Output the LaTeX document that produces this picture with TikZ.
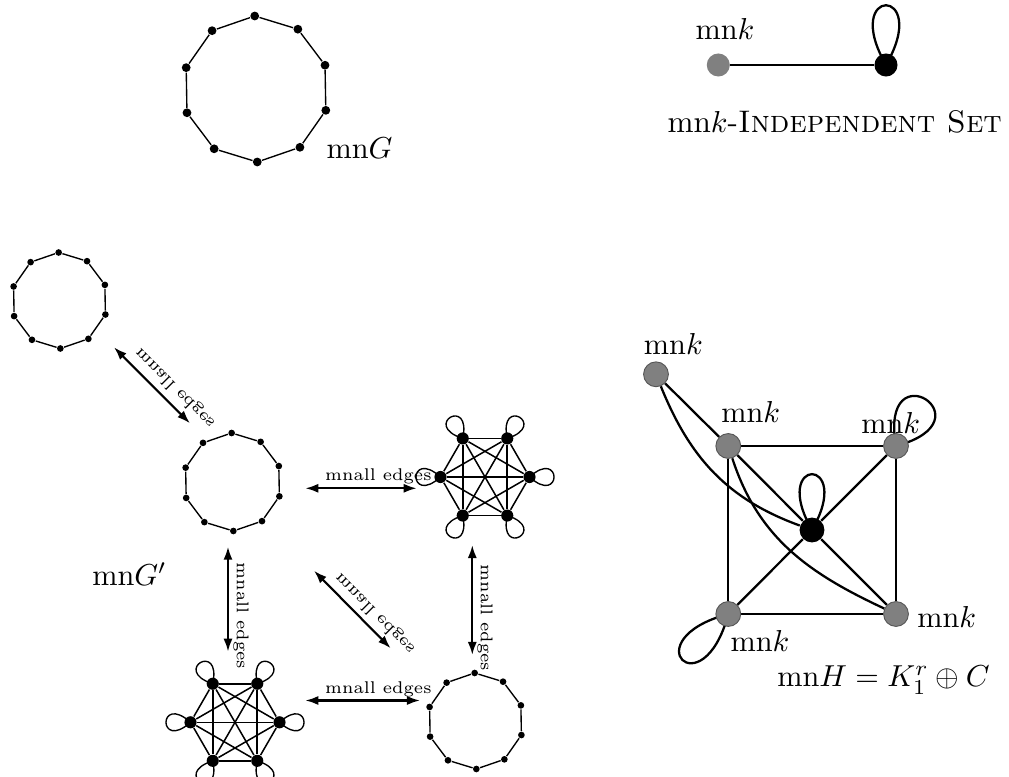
\documentclass[tikz,border=0pt]{standalone}
\usepackage{fontspec}
\usepackage{graphicx}
\usetikzlibrary{arrows.meta}
\pgfdeclarelayer{bg}
\pgfsetlayers{bg,main}
\definecolor{ngray}{RGB}{128,128,128}
\definecolor{nborder}{RGB}{85,85,85}
\newcommand{\mirtext}[1]{\scalebox{1}[-1]{#1}}
\tikzset{
  dotA/.style={circle,fill=black,inner sep=0pt,minimum size=2.9pt},
  dotB/.style={circle,fill=black,inner sep=0pt,minimum size=2.2pt},
  cdot/.style={circle,fill=black,inner sep=0pt,minimum size=4pt},
  thinedge/.style={line width=0.45pt},
  cedge/.style={line width=0.5pt},
  hedge/.style={line width=0.75pt},
  gnode/.style={circle,fill=ngray,draw=nborder,line width=0.3pt,inner sep=0pt,minimum size=8.2pt},
  bnode/.style={circle,fill=black,inner sep=0pt,minimum size=8.2pt},
  lgnode/.style={circle,fill=ngray,inner sep=0pt,minimum size=7.6pt},
  lbnode/.style={circle,fill=black,inner sep=0pt,minimum size=7.6pt},
  biarrow/.style={{Latex[length=4.3pt,width=3pt]}-{Latex[length=4.3pt,width=3pt]},line width=0.7pt},
  smalllab/.style={inner sep=0.5pt,font=\fontsize{5.6}{6.5}\selectfont},
  lab/.style={inner sep=0pt}
}
\newcommand{\drawdecagon}[5]{%
  \foreach \i in {0,...,9}{\node[#5] (#1\i) at ([shift={(#2,#3)}]91-36*\i:#4) {};}
  \begin{pgfonlayer}{bg}
  \foreach \i [evaluate=\i as \j using {int(mod(\i+1,10))}] in {0,...,9}{\draw[thinedge] (#1\i) -- (#1\j);}
  \end{pgfonlayer}}
\newcommand{\drawclique}[3]{%
  \foreach \i in {0,...,5}{\node[cdot] (#1\i) at ([shift={(#2,#3)}]60*\i:44.5) {};}
  \begin{pgfonlayer}{bg}
  \foreach \i in {0,...,4}{\foreach \j in {\i,...,5}{\ifnum\i<\j \draw[cedge] (#1\i) -- (#1\j);\fi}}
  \foreach \i in {0,...,5}{\draw[thinedge] (#1\i.center) .. controls +(60*\i+42:44) and +(60*\i-42:44) .. (#1\i.center);}
  \end{pgfonlayer}}
\begin{document}
\begin{tikzpicture}[x=0.33pt,y=0.33pt]
\path[use as bounding box] (0,0) rectangle (1009,-777);

% top cycle G
\drawdecagon{g}{256}{-89}{73}{dotA}
\node[lab,anchor=base west] (labG) at (326,-159) {mn$G$};

% legend
\node[lgnode] (lg) at (718.3,-65) {};
\node[lbnode] (lb) at (886,-65) {};
\begin{pgfonlayer}{bg}
\draw[hedge] (lg) -- (lb);
\draw[hedge] (lb.center) .. controls +(120:92) and +(60:92) .. (lb.center);
\end{pgfonlayer}
\node[lab,anchor=base west] (labk0) at (695,-40) {mn$k$};
\node[lab,anchor=base west,font=\fontsize{10.3}{12}\selectfont] (labIS) at (667,-133) {mn$k$-\textsc{Independent Set}};

% left small cycle
\drawdecagon{s}{59.5}{-300.5}{48}{dotB}
% G' cycle
\drawdecagon{p}{232.5}{-482}{49}{dotB}
% bottom right cycle
\drawdecagon{q}{475.5}{-721}{48}{dotB}
% cliques
\drawclique{c}{485}{-477}
\drawclique{d}{235}{-722.3}

\node[lab,anchor=base west] (labGp) at (91.7,-585.7) {mn$G'$};

% arrows
\coordinate (a1s) at (114,-347.3); \coordinate (a1e) at (190,-423.3);
\coordinate (a2s) at (305.3,-488.3); \coordinate (a2e) at (416.7,-488.3);
\coordinate (a3s) at (228,-546.7); \coordinate (a3e) at (228,-651.7);
\coordinate (a4s) at (472.3,-545); \coordinate (a4e) at (472.3,-655);
\coordinate (a5s) at (314,-570.7); \coordinate (a5e) at (390.7,-648.3);
\coordinate (a6s) at (305.3,-700.5); \coordinate (a6e) at (420,-700.5);
\draw[biarrow] (a1s) -- (a1e);
\draw[biarrow] (a2s) -- (a2e);
\draw[biarrow] (a3s) -- (a3e);
\draw[biarrow] (a4s) -- (a4e);
\draw[biarrow] (a5s) -- (a5e);
\draw[biarrow] (a6s) -- (a6e);
\node[smalllab,rotate=-45] (l1) at (175,-388) {\mirtext{mnall edges}};
\node[smalllab] (l2) at (378.3,-476) {mnall edges};
\node[smalllab,rotate=-90] (l3) at (241,-616) {mnall edges};
\node[smalllab,rotate=-90] (l4) at (485,-618) {mnall edges};
\node[smalllab,rotate=-45] (l5) at (375,-613.3) {\mirtext{mnall edges}};
\node[smalllab] (l6) at (378.3,-689) {mnall edges};

% graph H
\node[gnode] (o) at (656,-374.3) {};
\node[gnode] (A) at (728.3,-446) {};
\node[gnode] (B) at (896,-446) {};
\node[bnode] (Z) at (812,-530) {};
\node[gnode] (C) at (728.3,-614) {};
\node[gnode] (D) at (896,-614) {};
\begin{pgfonlayer}{bg}
\draw[hedge] (o) -- (A);
\draw[hedge] (o) to[out=-68,in=160] (Z);
\draw[hedge] (A) -- (B);
\draw[hedge] (A) -- (C);
\draw[hedge] (B) -- (D);
\draw[hedge] (C) -- (D);
\draw[hedge] (A) -- (Z);
\draw[hedge] (B) -- (Z);
\draw[hedge] (C) -- (Z);
\draw[hedge] (D) -- (Z);
\draw[hedge] (A) to[out=-72,in=155] (D);
\draw[hedge] (Z.center) .. controls +(120:86) and +(60:86) .. (Z.center);
\draw[hedge] (B.center) .. controls +(100:100) and +(15:100) .. (B.center);
\draw[hedge] (C.center) .. controls +(195:100) and +(255:100) .. (C.center);
\end{pgfonlayer}
\node[lab,anchor=base west] (lo) at (643.3,-355) {mn$k$};
\node[lab,anchor=base west] (lA) at (720.7,-422.7) {mn$k$};
\node[lab,anchor=base west] (lB) at (860.7,-434) {mn$k$};
\node[lab,anchor=base west] (lD) at (916.7,-627.3) {mn$k$};
\node[lab,anchor=base west] (lC) at (730,-651.7) {mn$k$};
\node[lab,anchor=base west] (lH) at (776.7,-686.7) {mn$H=K_1^r\oplus C$};
\end{tikzpicture}
\end{document}
